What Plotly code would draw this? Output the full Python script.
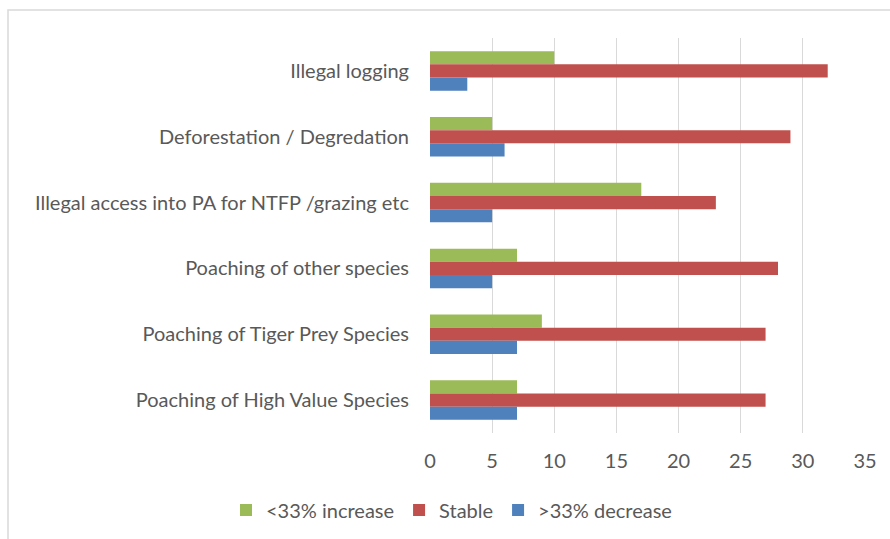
import plotly.graph_objects as go

# Threat categories, listed top to bottom
categories = [
    "Illegal logging",
    "Deforestation / Degredation",
    "Illegal access into PA for NTFP /grazing etc",
    "Poaching of other species",
    "Poaching of Tiger Prey Species",
    "Poaching of High Value Species",
]

increase = [10, 5, 17, 7, 9, 7]    # <33% increase
stable = [32, 29, 23, 28, 27, 27]  # Stable
decrease = [3, 6, 5, 5, 7, 7]      # >33% decrease

series = [
    ("<33% increase", increase, "#9BBB59"),
    ("Stable", stable, "#C0504D"),
    (">33% decrease", decrease, "#4F81BD"),
]

x_ticks = [0, 5, 10, 15, 20, 25, 30, 35]

FONT = "Lato"
GREY = "#595959"
FS = 20

fig = go.Figure()
for name, vals, color in series:
    fig.add_trace(go.Bar(
        name=name, y=categories, x=vals, orientation="h",
        marker=dict(color=color, line=dict(width=0)),
    ))

W, H = 890, 539
ml, mr, mt, mb = 430, 25, 38, 106
pw, ph = W - ml - mr, H - mt - mb

def px_x(p):
    return (p - ml) / pw

def px_y(p):
    return (H - mb - p) / ph

fig.update_layout(
    width=W, height=H,
    margin=dict(l=ml, r=mr, t=mt, b=mb, autoexpand=False),
    paper_bgcolor="white", plot_bgcolor="white",
    barmode="group", bargap=0.4, bargroupgap=0,
    font=dict(family=FONT, size=FS, color=GREY),
    xaxis=dict(
        range=[0, 35], tickvals=x_ticks, showgrid=True, gridcolor="#d9d9d9",
        gridwidth=1, zeroline=False, showline=False, ticks="",
        ticklabelstandoff=14,
        tickfont=dict(family=FONT, size=FS, color=GREY),
    ),
    yaxis=dict(
        autorange="reversed", showgrid=False, zeroline=False, showline=False,
        ticks="", ticklabelstandoff=20,
        tickfont=dict(family=FONT, size=FS, color=GREY),
    ),
    legend=dict(
        orientation="h", xanchor="left", yanchor="middle",
        x=px_x(226), y=px_y(510),
        font=dict(family=FONT, size=FS, color=GREY),
        itemwidth=30, tracegroupgap=0,
    ),
    showlegend=True,
    shapes=[dict(
        type="rect", xref="paper", yref="paper",
        x0=px_x(8), x1=px_x(900), y0=px_y(550), y1=px_y(10),
        line=dict(color="#d9d9d9", width=1.5), fillcolor="rgba(0,0,0,0)",
        layer="below",
    )],
)

fig.write_html("out.html")
